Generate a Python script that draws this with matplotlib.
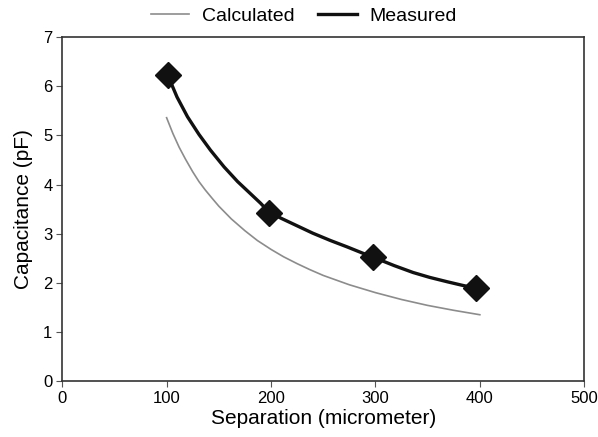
import matplotlib
matplotlib.use("Agg")
import matplotlib.pyplot as plt
from matplotlib.lines import Line2D

plt.rcParams['font.family'] = ['Liberation Sans', 'DejaVu Sans']

# Calculated curve
calc_x = [100, 106, 112, 118, 125, 131, 137, 144, 150, 162, 175, 187, 200, 212, 225, 237, 250, 275, 300, 325, 350, 375, 400]
calc_y = [5.36, 5.04, 4.76, 4.52, 4.26, 4.06, 3.89, 3.71, 3.56, 3.30, 3.06, 2.86, 2.68, 2.53, 2.39, 2.27, 2.15, 1.96, 1.80, 1.66, 1.54, 1.44, 1.35]

# Measured curve
meas_line_x = [101, 110, 120, 131, 142, 155, 168, 180, 190, 198, 210, 225, 240, 257, 273, 287, 298, 318, 336, 352, 369, 383, 396]
meas_line_y = [6.23, 5.78, 5.38, 5.02, 4.70, 4.36, 4.06, 3.82, 3.62, 3.44, 3.31, 3.16, 3.01, 2.86, 2.73, 2.61, 2.52, 2.35, 2.21, 2.11, 2.02, 1.95, 1.89]

# Measured points
meas_x = [101, 198, 298, 396]
meas_y = [6.23, 3.42, 2.52, 1.89]

fig = plt.figure(figsize=(5.98, 4.37), dpi=100)
ax = fig.add_axes([0.104, 0.128, 0.873, 0.787])

ax.plot(calc_x, calc_y, color='#8c8c8c', lw=1.2, solid_joinstyle='round')
ax.plot(meas_line_x, meas_line_y, color='#111111', lw=2.4, solid_joinstyle='round')
ax.plot(meas_x, meas_y, linestyle='none', marker='D', markersize=13, color='#111111')

ax.set_xlim(0, 500)
ax.set_ylim(0, 7)
ax.set_xticks([0, 100, 200, 300, 400, 500])
ax.set_yticks(range(0, 8))
ax.tick_params(direction='out', length=4, width=0.8, color='#555555', labelsize=12, pad=3)
for s in ax.spines.values():
    s.set_color('#333333')
    s.set_linewidth(1.2)

ax.set_xlabel('Separation (micrometer)', fontsize=15, labelpad=2)
ax.set_ylabel('Capacitance (pF)', fontsize=15, labelpad=7)

handles = [Line2D([], [], color='#8c8c8c', lw=1.2),
           Line2D([], [], color='#111111', lw=2.4)]
fig.legend(handles, ['Calculated', 'Measured'], loc='center', bbox_to_anchor=(0.508, 0.964),
           ncol=2, frameon=False, fontsize=14, handlelength=2.0, columnspacing=1.2,
           handletextpad=0.65, borderpad=0, borderaxespad=0)

fig.savefig('out.png', dpi=100)
